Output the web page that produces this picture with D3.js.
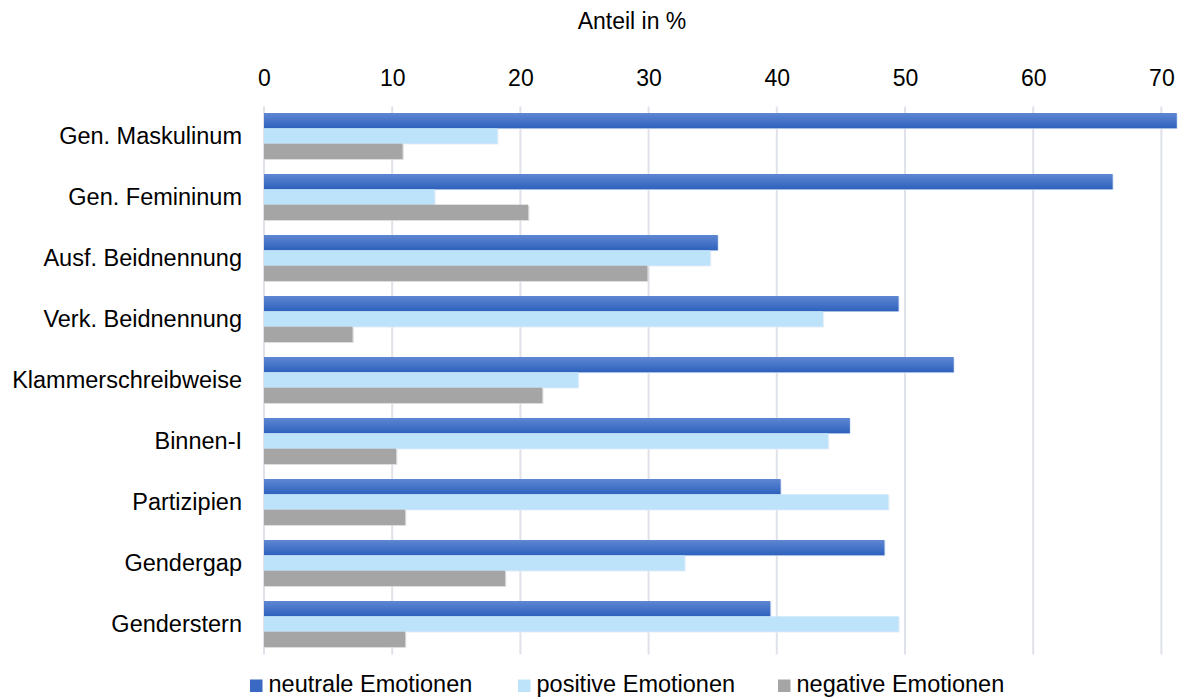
<!DOCTYPE html>
<html>
<head>
<meta charset="utf-8">
<script src="https://cdn.jsdelivr.net/npm/d3@7/dist/d3.min.js"></script>
<style>
  html, body { margin: 0; padding: 0; background: #fff; }
  svg { display: block; font-family: "Liberation Sans", Arial, sans-serif; }
</style>
</head>
<body>
<svg id="chart" width="1179" height="698"></svg>
<script>
// Kategorien (Formen der Personenbezeichnung)
const categories = [
  "Gen. Maskulinum", "Gen. Femininum", "Ausf. Beidnennung", "Verk. Beidnennung",
  "Klammerschreibweise", "Binnen-I", "Partizipien", "Gendergap", "Genderstern"
];
// Reihen (Anteil in %)
const seriesNames = ["neutrale Emotionen", "positive Emotionen", "negative Emotionen"];
const neutral  = [71.2, 66.2, 35.4, 49.5, 53.8, 45.7, 40.3, 48.4, 39.5];
const positive = [18.2, 13.3, 34.8, 43.6, 24.5, 44.0, 48.7, 32.8, 49.5];
const negative = [10.8, 20.6, 29.9,  6.9, 21.7, 10.3, 11.0, 18.8, 11.0];
const tickValues = [0, 10, 20, 30, 40, 50, 60, 70];
const axisTitle = "Anteil in %";

const seriesValues = [neutral, positive, negative];
const fills = ["url(#gradNeutral)", "#bde3fb", "#a5a5a5"];
const legendFills = ["#3a69c4", "#bde3fb", "#a5a5a5"];

const svg = d3.select("#chart");
const margin = { left: 264, right: 1161.4, top: 105.5, bottom: 654.5 };

const defs = svg.append("defs");
const g = defs.append("linearGradient").attr("id", "gradNeutral")
  .attr("x1", 0).attr("y1", 0).attr("x2", 0).attr("y2", 1);
g.append("stop").attr("offset", "0%").attr("stop-color", "#5f87d2");
g.append("stop").attr("offset", "100%").attr("stop-color", "#2d61bd");

const x = d3.scaleLinear().domain([0, 70]).range([margin.left, margin.right]);
const y = d3.scaleBand().domain(categories)
  .range([margin.top, margin.bottom]).paddingInner(0.246).paddingOuter(0.123);
const ySub = d3.scaleBand().domain(d3.range(seriesNames.length)).range([0, y.bandwidth()]);

// Gitterlinien
svg.append("g").selectAll("line").data(tickValues).join("line")
  .attr("x1", d => x(d)).attr("x2", d => x(d))
  .attr("y1", margin.top + 1).attr("y2", margin.bottom)
  .attr("stroke", "#dfe2e8").attr("stroke-width", 2);

// Achse oben
const axis = d3.axisTop(x).tickValues(tickValues).tickSize(0).tickPadding(0);
const ax = svg.append("g").attr("transform", "translate(0,86)").call(axis);
ax.select(".domain").remove();
ax.selectAll("text").attr("font-size", 23).attr("fill", "#000")
  .attr("font-family", "'Liberation Sans', Arial, sans-serif").attr("dy", 0);

svg.append("text").attr("x", 632).attr("y", 28.5).attr("text-anchor", "middle")
  .attr("font-size", 23).attr("fill", "#000").text(axisTitle);

// Balken
const groups = svg.append("g").selectAll("g").data(categories).join("g")
  .attr("transform", c => `translate(0,${y(c)})`);

groups.each(function (c, ci) {
  const gg = d3.select(this);
  seriesValues.forEach((vals, si) => {
    const v = vals[ci];
    // leichter Schatten
    gg.append("rect")
      .attr("x", x(0)).attr("y", ySub(si) + 0.8)
      .attr("width", x(v) - x(0) + 1.2).attr("height", ySub.bandwidth())
      .attr("fill", si === 2 ? "#d6d6d6" : "#e6eef8");
    gg.append("rect")
      .attr("x", x(0)).attr("y", ySub(si))
      .attr("width", x(v) - x(0)).attr("height", ySub.bandwidth())
      .attr("fill", fills[si]);
  });
});

// Kategorienbeschriftung
svg.append("g").selectAll("text").data(categories).join("text")
  .attr("x", 242).attr("y", c => y(c) + y.bandwidth() / 2)
  .attr("dy", "0.35em").attr("text-anchor", "end")
  .attr("font-size", 23.5).attr("fill", "#000").text(c => c);

// Legende
const legendX = [250, 518, 778];
const lg = svg.append("g").selectAll("g").data(seriesNames).join("g")
  .attr("transform", (d, i) => `translate(${legendX[i]},0)`);
lg.append("rect").attr("x", 0).attr("y", 679.5).attr("width", 12.5).attr("height", 12.5)
  .attr("fill", (d, i) => legendFills[i]);
lg.append("text").attr("x", 18.5).attr("y", 692).attr("font-size", 23.5)
  .attr("fill", "#000").text(d => d);
</script>
</body>
</html>
